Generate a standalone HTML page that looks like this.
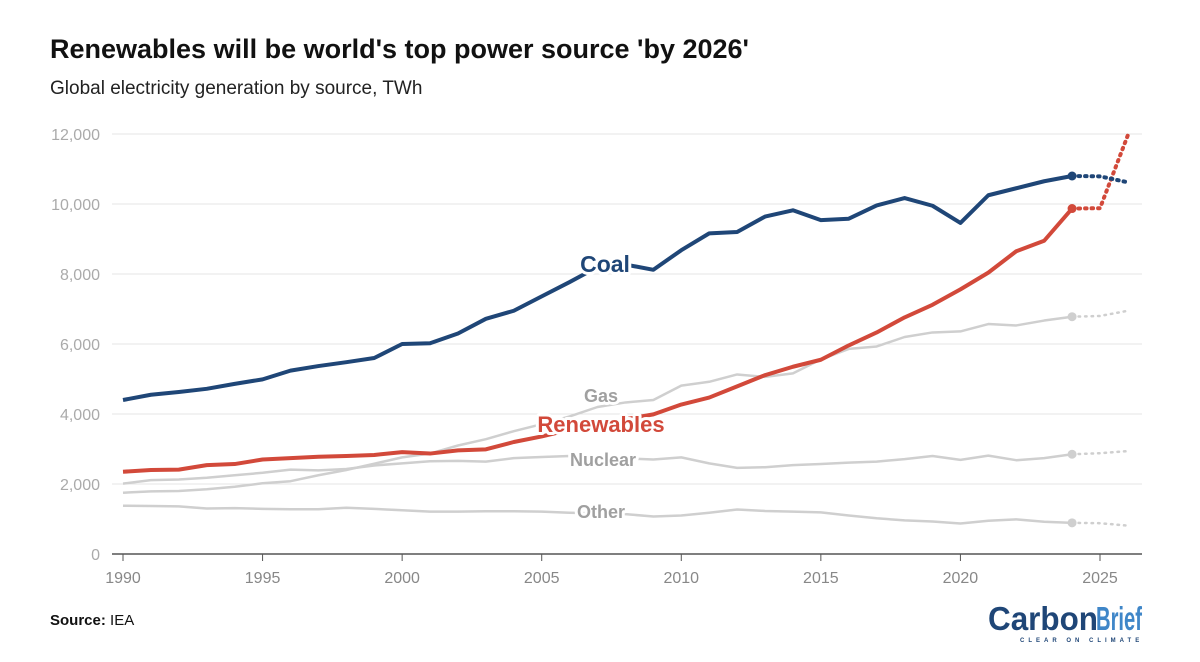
<!DOCTYPE html>
<html><head><meta charset="utf-8"><style>
body{margin:0;background:#fff;width:1200px;height:662px;overflow:hidden;font-family:"Liberation Sans",sans-serif}
svg{display:block}
</style></head><body>
<svg width="1200" height="662">
<text x="50" y="58" font-size="27" font-weight="bold" fill="#111">Renewables will be world's top power source 'by 2026'</text>
<text x="50" y="94" font-size="19" fill="#222">Global electricity generation by source, TWh</text>
<g id="grid"></g><g id="series"></g><g id="labels"></g>
<text x="50" y="625" font-size="15" fill="#111"><tspan font-weight="bold">Source:</tspan> IEA</text>
<g>
<text x="988" y="630" font-size="33" font-weight="bold" fill="#1f4677" textLength="110" lengthAdjust="spacingAndGlyphs">Carbon</text>
<text x="1096" y="630" font-size="33" font-weight="bold" fill="#3f86c8" textLength="46" lengthAdjust="spacingAndGlyphs">Brief</text>
<text x="1020" y="642" font-size="6" font-weight="bold" fill="#1f4677" letter-spacing="4">CLEAR ON CLIMATE</text>
</g>
</svg>
<script>
const years=[];for(let y=1990;y<=2024;y++)years.push(y);
const fYears=[2024,2025,2026];
const coal=[4400,4550,4630,4720,4860,4990,5240,5370,5480,5600,6000,6020,6300,6720,6950,7360,7770,8200,8270,8120,8680,9160,9200,9640,9820,9540,9580,9960,10170,9950,9460,10250,10450,10650,10800];
const coalF=[10800,10790,10620];
const renew=[2350,2400,2410,2540,2570,2700,2740,2780,2800,2830,2910,2870,2960,2990,3200,3360,3550,3700,3850,3990,4270,4470,4790,5110,5350,5550,5960,6330,6760,7120,7560,8040,8650,8950,9870];
const renewF=[9870,9880,11970];
const gas=[1750,1790,1800,1850,1920,2020,2080,2250,2400,2580,2760,2870,3100,3280,3510,3710,3930,4200,4330,4400,4810,4920,5130,5060,5160,5560,5860,5930,6200,6330,6360,6570,6530,6670,6780];
const gasF=[6780,6800,6950];
const nuclear=[2010,2110,2130,2180,2250,2320,2410,2390,2430,2530,2590,2650,2660,2640,2740,2770,2800,2720,2730,2700,2760,2590,2460,2480,2540,2570,2610,2640,2710,2800,2690,2810,2680,2740,2850];
const nuclearF=[2850,2880,2940];
const other=[1380,1370,1360,1300,1310,1290,1280,1280,1320,1290,1250,1210,1210,1220,1220,1210,1180,1160,1140,1070,1100,1180,1270,1230,1210,1190,1100,1020,960,930,870,950,990,920,890];
const otherF=[890,880,810];
const yTicks=[0,2000,4000,6000,8000,10000,12000];
const xTicks=[1990,1995,2000,2005,2010,2015,2020,2025];
const X=y=>123+(y-1990)*27.914, Y=v=>554-v*0.035;
const NS="http://www.w3.org/2000/svg";
function mk(t,a,p){const e=document.createElementNS(NS,t);for(const k in a)e.setAttribute(k,a[k]);p.appendChild(e);return e;}
const grid=document.getElementById('grid'),ser=document.getElementById('series'),lab=document.getElementById('labels');
yTicks.forEach(v=>{
 const l=mk('line',{x1:112,x2:1142,y1:Y(v),y2:Y(v),stroke:v?'#e6e6e6':'#555','stroke-width':v?1:1.5},grid);
 
 
 const t=mk('text',{x:100,y:Y(v)+6,'text-anchor':'end','font-size':16,fill:'#aaa'},grid);
 t.textContent=v.toLocaleString('en-US');
 
 
});
xTicks.forEach(y=>{
 const l=mk('line',{x1:X(y),x2:X(y),y1:554,y2:561,stroke:'#555'},grid);
 
 
 const t=mk('text',{x:X(y),y:583,'text-anchor':'middle','font-size':16,fill:'#888'},grid);
 t.textContent=y;
 
 
});
function draw(vals,fvals,color,w,name){
 const p=mk('polyline',{points:vals.map((v,i)=>X(years[i])+','+Y(v)).join(' '),fill:'none',stroke:color,'stroke-width':w,'stroke-linejoin':'round'},ser);
 
 
 const f=mk('polyline',{points:fvals.map((v,i)=>X(fYears[i])+','+Y(v)).join(' '),fill:'none',stroke:color,'stroke-width':w,'stroke-dasharray':'1.5 5','stroke-linecap':'round'},ser);
 
 
 const c=mk('circle',{cx:X(2024),cy:Y(vals[vals.length-1]),r:4.5,fill:color},ser);
 
 
}
draw(other,otherF,'#cfcfcf',2.5,'other');
draw(nuclear,nuclearF,'#cfcfcf',2.5,'nuclear');
draw(gas,gasF,'#cfcfcf',2.5,'gas');
draw(renew,renewF,'#d2493a',4,'renewables');
draw(coal,coalF,'#1f4677',4,'coal');
function label(txt,x,y,color,size,name){
 const t=mk('text',{x:x,y:y,'text-anchor':'middle','font-size':size,'font-weight':'bold',fill:color,stroke:'#fff','stroke-width':6,'paint-order':'stroke','stroke-linejoin':'round'},lab);
 t.textContent=txt;
 
 
}
label('Coal',605,272,'#1f4677',23,'coal-label');
label('Gas',601,402,'#a0a0a0',18,'gas-label');
label('Renewables',601,432,'#d2493a',22,'renewables-label');
label('Nuclear',603,466,'#a0a0a0',18,'nuclear-label');
label('Other',601,518,'#a0a0a0',18,'other-label');
</script>
</body></html>
